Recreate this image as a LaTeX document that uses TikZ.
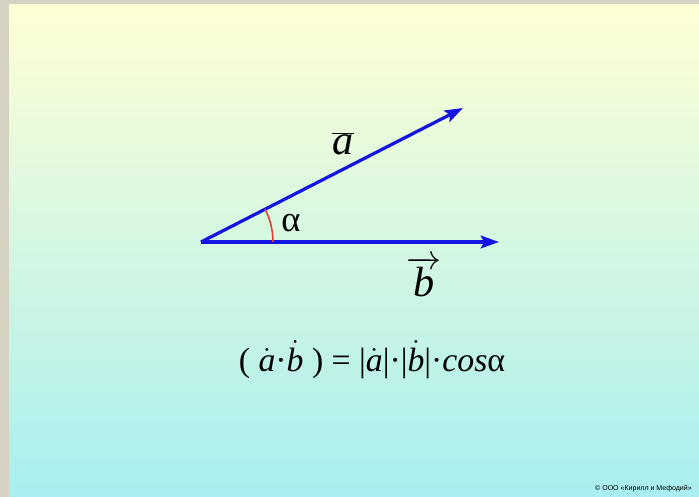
\documentclass[tikz,border=0pt]{standalone}
\usepackage{fontspec}
\setmainfont{Liberation Serif}
\newfontfamily\notefont{Liberation Sans}
\usetikzlibrary{arrows.meta}
\definecolor{vecblue}{RGB}{20,20,225}
\definecolor{arcred}{RGB}{228,60,50}
\definecolor{bgtop}{RGB}{255,255,212}
\definecolor{bgbot}{RGB}{168,238,240}
\definecolor{frame}{RGB}{214,210,194}
\newcommand\dotv[1]{$\dot{\hbox{\itshape #1}}$}
\begin{document}
\begin{tikzpicture}[x=0.025cm,y=0.025cm,
  vec/.style={draw=vecblue,line width=2.3pt,-{Stealth[length=13pt,width=9pt,inset=2.5pt]}},
  lbl/.style={anchor=base,inner sep=0pt,font=\fontsize{30}{34}\selectfont}]
\useasboundingbox (0,0) rectangle (699,497);
\fill[frame] (0,0) rectangle (699,497);
\shade[top color=bgtop,bottom color=bgbot] (9,0) rectangle (699,492);

\coordinate (O) at (201,255);
\coordinate (A) at (463,389);
\coordinate (B) at (499,255);

\draw[vec] (O) -- (A);
\draw[vec] (O) -- (B);
\draw[arcred,line width=1.1pt] (O) ++(72,0) arc[start angle=0,end angle=27.1,radius=72];

\node[lbl] (alab) at (343,342) {$\overline{\hbox{\itshape a}}$};
\node[lbl] (blab) at (424,200) {$\overrightarrow{\hbox{\itshape b}}$};
\node[lbl,font=\fontsize{26}{30}\selectfont] (alpha) at (291,265) {α};

\node[lbl,font=\fontsize{24}{28}\selectfont] (formula) at (372,125)
  {(\ \dotv{a}·\dotv{b}\ ) = |\dotv{a}|·|\dotv{b}|·\textit{cos}α};

\node[anchor=base east,inner sep=0pt,font=\notefont\fontsize{5}{6}\selectfont] (note) at (692,6)
  {© ООО «Кирилл и Мефодий»};
\end{tikzpicture}
\end{document}
